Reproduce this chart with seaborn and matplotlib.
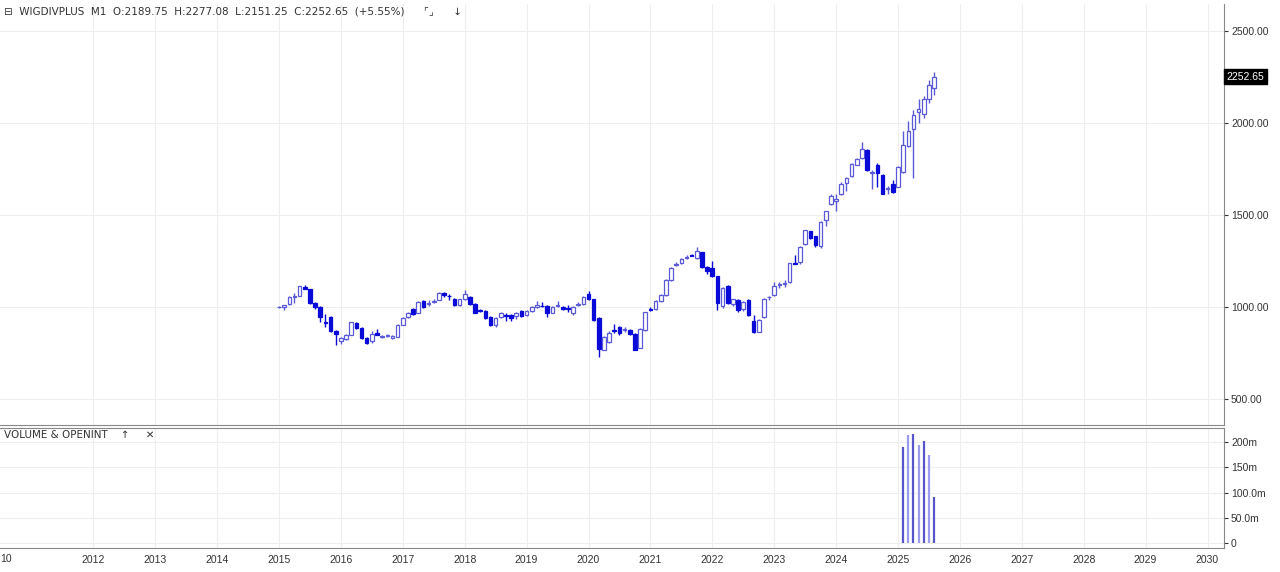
import matplotlib
matplotlib.use("Agg")
import matplotlib.pyplot as plt
import seaborn as sns
import numpy as np
import pandas as pd

opens = [1000,1000,1015,1055,1060,1108,1097,1020,1000,918,946,870,816,827,849,914,886,832,816,856,838,840,830,838,903,946,990,968,1032,1016,1028,1038,1076,1062,1043,1010,
 1043,1055,1016,982,980,946,903,946,958,955,950,980,955,980,1000,1007,1005,968,1007,1000,992,968,1012,1016,1070,1043,940,768,811,872,892,875,876,854,778,876,988,990,
 1032,1065,1146,1228,1238,1268,1282,1265,1297,1216,1211,1168,1005,1114,1016,1038,990,1038,924,865,946,1052,1065,1118,1126,1135,1240,
 1243,1340,1411,1384,1330,1470,1562,1577,1616,1676,1713,1773,1811,1854,1728,1773,1719,1640,1670,1654,1735,1875,1968,2060,2049,2130,2189.75]
closes = [1000,1010,1055,1062,1113,1097,1020,1000,946,912,870,854,832,849,919,886,832,805,854,850,838,848,840,903,940,968,962,1027,1000,1022,1032,1076,1065,1058,1010,1043,
 1070,1016,968,978,940,903,940,968,953,940,965,950,980,1000,1010,1003,968,1000,1013,990,988,1000,1017,1055,1043,930,773,838,859,868,860,882,854,768,881,973,984,1032,
 1065,1146,1211,1234,1260,1272,1278,1303,1216,1195,1168,1022,1103,1022,1043,984,1027,957,865,930,1043,1056,1114,1122,1132,1238,1236,
 1324,1416,1373,1335,1460,1519,1605,1585,1670,1703,1778,1805,1860,1746,1735,1730,1616,1645,1627,1762,1881,1957,2043,2076,2130,2205,2252.65]
highs = [1005,1012,1058,1075,1115,1120,1100,1025,1005,960,950,875,835,855,920,918,890,835,870,880,850,855,845,905,945,975,995,1030,1035,1035,1045,1080,1080,1070,1048,1045,
 1090,1060,1020,990,985,950,945,975,965,960,970,985,985,1005,1030,1025,1010,1005,1030,1005,1010,1005,1025,1060,1085,1045,945,840,870,905,895,890,880,860,885,975,1000,1035,
 1068,1150,1215,1245,1265,1280,1290,1325,1300,1220,1250,1170,1108,1120,1045,1045,1030,1045,955,935,1048,1060,1135,1135,1145,1240,1285,
 1330,1420,1415,1388,1465,1522,1612,1612,1680,1705,1782,1810,1895,1860,1745,1780,1722,1660,1690,1765,1955,2010,2068,2130,2145,2235,2277.08]
lows = [995,985,1012,1020,1058,1095,1015,990,920,890,865,795,800,820,845,880,828,800,805,845,830,835,825,835,900,940,958,965,995,1005,1020,1035,1055,1040,1005,1005,
 1040,1010,965,970,935,898,890,940,925,925,935,945,950,975,995,1000,945,965,1000,985,975,955,1005,1012,1040,925,730,765,805,860,850,865,850,765,775,870,980,985,
 1028,1060,1140,1222,1235,1262,1275,1260,1210,1180,1160,985,995,1015,1005,975,980,952,860,862,940,1040,1060,1105,1110,1130,1232,
 1235,1336,1368,1325,1320,1440,1555,1520,1610,1630,1708,1770,1805,1740,1640,1650,1612,1615,1620,1650,1730,1870,1703,2000,2025,2110,2151.25]

vol_months = ["2025-02","2025-03","2025-04","2025-05","2025-06","2025-07","2025-08"]
vol_values = [191, 214, 217, 195, 202, 175, 92]  # millions

year_ticks = [2010] + list(range(2012, 2031))
price_ticks = [500, 1000, 1500, 2000, 2500]
vol_ticks = [0, 50, 100, 150, 200]
vol_labels = ["0", "50.0m", "100.0m", "150m", "200m"]

sns.set_style("white")
plt.rcParams['font.family'] = ['Liberation Sans', 'DejaVu Sans']

n = len(opens)
df = pd.DataFrame({"t": 2015 + np.arange(n) / 12.0, "open": opens, "close": closes,
                   "high": highs, "low": lows})
df["up"] = df["close"] >= df["open"]

fig = plt.figure(figsize=(12.8, 5.72), dpi=100)
ax = fig.add_axes([0.0, 1 - 425/572, 1224/1280, 421/572])
axv = fig.add_axes([0.0, 1 - 548/572, 1224/1280, 120/572], sharex=ax)

up_col = "#5a5ad8"
dn_col = "#0a0ad8"
grid_col = "#eeeeee"
w = 0.7 / 12

for a in (ax, axv):
    a.set_facecolor("white")
    for t in year_ticks:
        a.axvline(t, color=grid_col, lw=0.8, zorder=0)
    for s in ["left", "top"]:
        a.spines[s].set_visible(False)
    for s in ["right", "bottom"]:
        a.spines[s].set_color("#888888")
    a.yaxis.tick_right()
    a.tick_params(axis="y", labelsize=7.5, colors="#333333", length=3, pad=2)

for v in price_ticks:
    ax.axhline(v, color=grid_col, lw=0.8, zorder=0)
for v in vol_ticks:
    axv.axhline(v, color=grid_col, lw=0.8, zorder=0)

for _, r in df.iterrows():
    col = up_col if r.up else dn_col
    lo_b, hi_b = min(r.open, r.close), max(r.open, r.close)
    ax.vlines(r.t, r.low, lo_b, color=col, lw=1, zorder=2)
    ax.vlines(r.t, hi_b, r.high, color=col, lw=1, zorder=2)
    hgt = max(hi_b - lo_b, 2)
    ax.bar(r.t, hgt, bottom=lo_b, width=w, facecolor="white" if r.up else dn_col,
           edgecolor=col, linewidth=0.9, zorder=3)

ax.set_ylim(358, 2647)
ax.set_yticks(price_ticks)
ax.set_yticklabels([f"{v:.2f}" for v in price_ticks])
ax.tick_params(axis="x", which="both", bottom=False, labelbottom=False)

last = closes[-1]
ax.text(1.002, last, f"{last:.2f}", transform=ax.get_yaxis_transform(), fontsize=7.5,
        color="white", va="center", ha="left",
        bbox=dict(boxstyle="square,pad=0.25", fc="black", ec="black"))

vdf = pd.DataFrame({"t": [int(m[:4]) + (int(m[5:]) - 1) / 12 for m in vol_months], "v": vol_values})
vcols = ["#5555cc", "#9a9aee"] * 4
for i, (_, r) in enumerate(vdf.iterrows()):
    axv.vlines(r.t, 0, r.v, color=vcols[i], lw=1.6, zorder=3)
axv.set_ylim(-10, 228)
axv.set_yticks(vol_ticks)
axv.set_yticklabels(vol_labels)
axv.set_xticks(year_ticks)
axv.set_xticklabels([str(y) for y in year_ticks])
axv.tick_params(axis="x", labelsize=7.5, colors="#333333", length=3, pad=2)
axv.spines["top"].set_visible(True)
axv.spines["top"].set_color("#888888")

axv.set_xlim(2015 - 279/61.9, 2015 + (1224 - 279)/61.9)

fig.text(0, 1 - 559/572, "10", fontsize=7.5, color="#333333", va="center", ha="left")
fig.text(4/1280, 1 - 11/572, "\u229f  WIGDIVPLUS  M1  O:2189.75  H:2277.08  L:2151.25  C:2252.65  (+5.55%)      \u231c\u231f      \u2193",
         fontsize=7.5, color="#333333", va="center", family=['DejaVu Sans'])
fig.text(4/1280, 1 - 435/572, "VOLUME & OPENINT    \u2191     \u2715", fontsize=7.5, color="#333333", va="center",
         family=['DejaVu Sans'])

fig.savefig("out.png", dpi=100, facecolor="white")
